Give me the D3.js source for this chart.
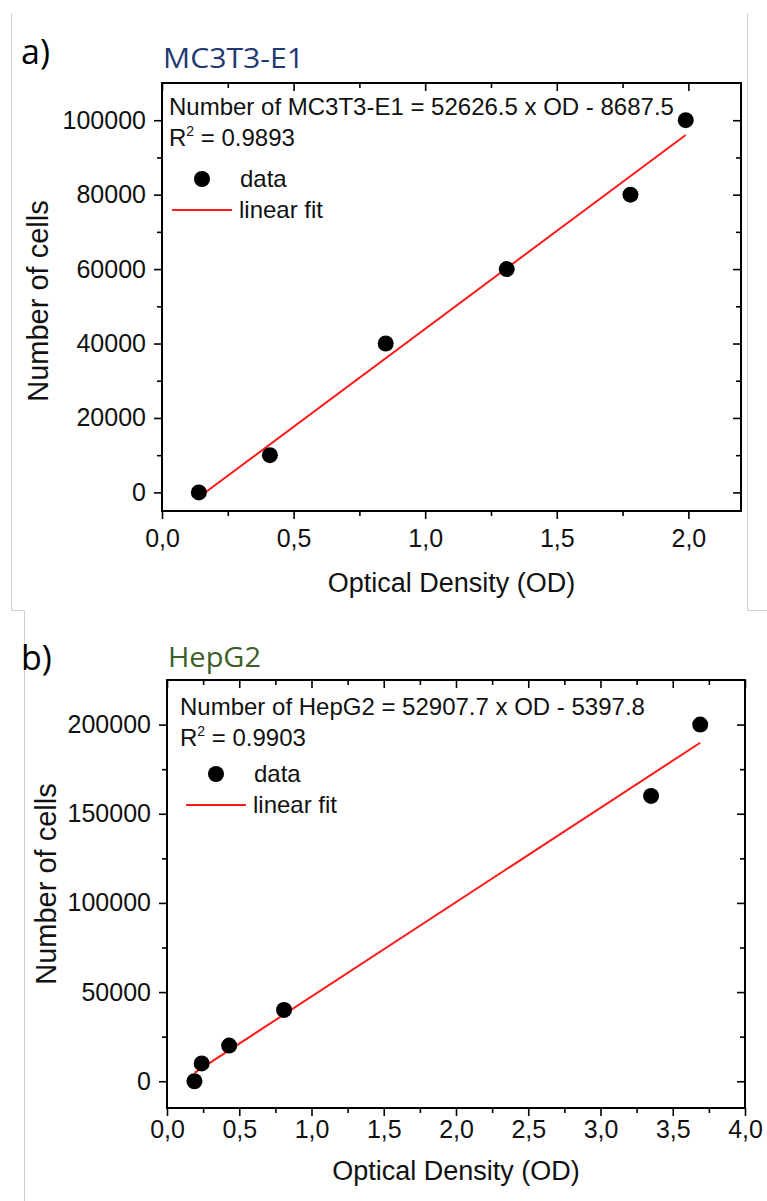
<!DOCTYPE html>
<html>
<head>
<meta charset="utf-8">
<script src="https://cdn.jsdelivr.net/npm/d3@7"></script>
<style>
  html, body { margin: 0; padding: 0; background: #fff; }
  svg { display: block; }
</style>
</head>
<body>
<svg id="chart" width="767" height="1201"></svg>
<script>
// ---------- Panel a data (MC3T3-E1) ----------
const odA = [0.14, 0.41, 0.85, 1.31, 1.78, 1.99];
const cellsA = [0, 10000, 40000, 60000, 80000, 100000];
const fitA = [52626.5, -8687.5];           // slope, intercept
const xTicksA = [0, 0.5, 1.0, 1.5, 2.0];
const xMinorA = [0.25, 0.75, 1.25, 1.75];
const yTicksA = [0, 20000, 40000, 60000, 80000, 100000];
const yMinorA = [10000, 30000, 50000, 70000, 90000];
const xDomainA = [0, 2.2];
const yDomainA = [-5000, 110000];

// ---------- Panel b data (HepG2) ----------
const odB = [0.19, 0.24, 0.43, 0.81, 3.35, 3.69];
const cellsB = [0, 10000, 20000, 40000, 160000, 200000];
const fitB = [52907.7, -5397.8];
const xTicksB = [0, 0.5, 1.0, 1.5, 2.0, 2.5, 3.0, 3.5, 4.0];
const xMinorB = [0.25, 0.75, 1.25, 1.75, 2.25, 2.75, 3.25, 3.75];
const yTicksB = [0, 50000, 100000, 150000, 200000];
const yMinorB = [25000, 75000, 125000, 175000];
const xDomainB = [0, 4.0];
const yDomainB = [-15000, 225000];

const svg = d3.select("#chart");
const ARIAL = "'Liberation Sans', Arial, sans-serif";
const CAL = "'Open Sans', 'Noto Sans', sans-serif";
const fmtX = d => d3.format(".1f")(d).replace(".", ",");

// light grey picture borders
const border = svg.append("g").attr("stroke", "#cfcfcf").attr("stroke-width", 1).attr("fill", "none");
border.append("path").attr("d", "M11.5,13 V610.5 H25 M747.5,13 V610.5 H767 M24.5,610.5 V1201");

function panel(cfg) {
  const x = d3.scaleLinear().domain(cfg.xDomain).range([cfg.left, cfg.right]);
  const y = d3.scaleLinear().domain(cfg.yDomain).range([cfg.bottom, cfg.top]);
  const g = svg.append("g");

  // panel letter and title
  g.append("text").attr("x", cfg.letterX).attr("y", cfg.letterY)
    .attr("font-family", CAL).attr("font-size", 34).attr("fill", "#000").text(cfg.letter);
  g.append("text").attr("x", cfg.left + 1).attr("y", cfg.titleY)
    .attr("font-family", CAL).attr("font-size", 28).attr("fill", cfg.titleColor)
    .attr("textLength", cfg.titleLen).attr("lengthAdjust", "spacingAndGlyphs")
    .text(cfg.title);

  const axStyle = sel => {
    sel.select(".domain").remove();
    sel.selectAll(".tick line").attr("stroke", "#000").attr("stroke-width", 1.6);
    sel.selectAll("text").attr("font-family", ARIAL).attr("font-size", 25).attr("fill", "#111");
  };

  // bottom
  g.append("g").attr("transform", `translate(0,${cfg.bottom})`)
    .call(d3.axisBottom(x).tickValues(cfg.xTicks).tickSize(8).tickPadding(cfg.xPad).tickFormat(fmtX)).call(axStyle);
  g.append("g").attr("transform", `translate(0,${cfg.bottom})`)
    .call(d3.axisBottom(x).tickValues(cfg.xMinor).tickSize(5).tickFormat("")).call(axStyle);
  // top (inward)
  g.append("g").attr("transform", `translate(0,${cfg.top})`)
    .call(d3.axisTop(x).tickValues(cfg.xTicks).tickSize(-8).tickFormat("")).call(axStyle);
  g.append("g").attr("transform", `translate(0,${cfg.top})`)
    .call(d3.axisTop(x).tickValues(cfg.xMinor).tickSize(-5).tickFormat("")).call(axStyle);
  // left
  g.append("g").attr("transform", `translate(${cfg.left},0)`)
    .call(d3.axisLeft(y).tickValues(cfg.yTicks).tickSize(8).tickPadding(cfg.yPad).tickFormat(d3.format("d"))).call(axStyle);
  g.append("g").attr("transform", `translate(${cfg.left},0)`)
    .call(d3.axisLeft(y).tickValues(cfg.yMinor).tickSize(5).tickFormat("")).call(axStyle);
  // right (inward)
  g.append("g").attr("transform", `translate(${cfg.right},0)`)
    .call(d3.axisRight(y).tickValues(cfg.yTicks).tickSize(-8).tickFormat("")).call(axStyle);
  g.append("g").attr("transform", `translate(${cfg.right},0)`)
    .call(d3.axisRight(y).tickValues(cfg.yMinor).tickSize(-5).tickFormat("")).call(axStyle);

  // frame
  g.append("rect").attr("x", cfg.left).attr("y", cfg.top)
    .attr("width", cfg.right - cfg.left).attr("height", cfg.bottom - cfg.top)
    .attr("fill", "none").attr("stroke", "#000").attr("stroke-width", 2);

  // fit line
  const xs = d3.extent(cfg.xs);
  const fitPts = xs.map(v => [v, cfg.fit[0] * v + cfg.fit[1]]);
  g.append("path").datum(fitPts)
    .attr("d", d3.line().x(d => x(d[0])).y(d => y(d[1])))
    .attr("stroke", "#ff1a1a").attr("stroke-width", 2).attr("fill", "none");

  // data points
  g.selectAll("circle.pt").data(cfg.xs.map((v, i) => [v, cfg.ys[i]])).join("circle")
    .attr("class", "pt").attr("cx", d => x(d[0])).attr("cy", d => y(d[1])).attr("r", 8).attr("fill", "#000");

  // annotation
  const t = g.append("g").attr("font-family", ARIAL).attr("font-size", 24).attr("fill", "#111");
  t.append("text").attr("x", cfg.eqX).attr("y", cfg.eqY).text(cfg.eq);
  const r2 = t.append("text").attr("x", cfg.eqX).attr("y", cfg.eqY + 31);
  r2.append("tspan").text("R");
  r2.append("tspan").attr("font-size", 14).attr("dy", -10).text("2");
  r2.append("tspan").attr("dy", 10).text(" = " + cfg.r2);

  // legend
  g.append("circle").attr("cx", cfg.legX + 30).attr("cy", cfg.legY - 8).attr("r", 8).attr("fill", "#000");
  t.append("text").attr("x", cfg.legX + 68).attr("y", cfg.legY).text("data");
  g.append("line").attr("x1", cfg.legX).attr("x2", cfg.legX + 60)
    .attr("y1", cfg.legY + 23).attr("y2", cfg.legY + 23)
    .attr("stroke", "#ff1a1a").attr("stroke-width", 2);
  t.append("text").attr("x", cfg.legX + 67).attr("y", cfg.legY + 31).text("linear fit");

  // axis titles
  g.append("text").attr("x", (cfg.left + cfg.right) / 2).attr("y", cfg.xTitleY)
    .attr("text-anchor", "middle").attr("font-family", ARIAL).attr("font-size", 27).attr("fill", "#111")
    .text("Optical Density (OD)");
  g.append("text").attr("transform", `translate(${cfg.yTitleX},${cfg.yTitleMid}) rotate(-90)`)
    .attr("text-anchor", "middle").attr("font-family", ARIAL).attr("font-size", 29).attr("fill", "#111")
    .text("Number of cells");
}

panel({
  letter: "a)", letterX: 21, letterY: 64, title: "MC3T3-E1", titleColor: "#1f3a73", titleY: 68, titleLen: 141,
  left: 162, right: 741, top: 83, bottom: 511,
  xDomain: xDomainA, yDomain: yDomainA, xTicks: xTicksA, xMinor: xMinorA, yTicks: yTicksA, yMinor: yMinorA,
  xPad: 10, yPad: 8, xs: odA, ys: cellsA, fit: fitA,
  eq: "Number of MC3T3-E1 = 52626.5 x OD - 8687.5", r2: "0.9893", eqX: 169, eqY: 115,
  legX: 172, legY: 187, xTitleY: 592, yTitleX: 48, yTitleMid: 301
});

panel({
  letter: "b)", letterX: 21, letterY: 670, title: "HepG2", titleColor: "#3d5f27", titleY: 667, titleLen: 93,
  left: 167, right: 745, top: 680, bottom: 1108,
  xDomain: xDomainB, yDomain: yDomainB, xTicks: xTicksB, xMinor: xMinorB, yTicks: yTicksB, yMinor: yMinorB,
  xPad: 4, yPad: 8, xs: odB, ys: cellsB, fit: fitB,
  eq: "Number of HepG2 = 52907.7 x OD - 5397.8", r2: "0.9903", eqX: 180, eqY: 715,
  legX: 186, legY: 782, xTitleY: 1180, yTitleX: 56, yTitleMid: 884
});
</script>
</body>
</html>
